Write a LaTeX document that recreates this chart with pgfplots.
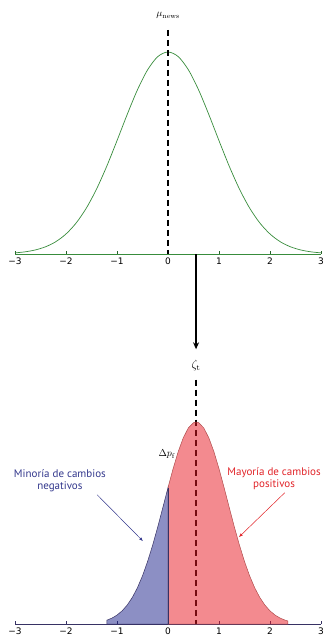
\documentclass[border=0pt]{standalone}
\usepackage{pgfplots}
\pgfplotsset{compat=1.18}
\usepackage{fontspec}
\usetikzlibrary{arrows.meta}
\newfontfamily\tickfont{DejaVu Sans}
\newfontfamily\annot{PT Sans}

\definecolor{curvegreen}{RGB}{56,140,60}
\definecolor{negfill}{RGB}{25,31,137}
\definecolor{negedge}{RGB}{55,50,100}
\definecolor{posfill}{RGB}{232,22,32}
\definecolor{posedge}{RGB}{175,75,75}
\definecolor{negtext}{RGB}{50,55,140}
\definecolor{postext}{RGB}{225,35,40}

\pgfplotsset{
  campana/.style={
    scale only axis, x=51pt, y=202pt,
    xmin=-3, xmax=3, ymin=0,
    axis x line*=bottom, axis y line=none,
    xtick={-3,-2,-1,0,1,2,3},
    xticklabels={−3,−2,−1,0,1,2,3},
    tick align=inside, major tick length=3pt,
    ticklabel style={font=\tickfont\fontsize{9}{10}\selectfont},
    clip=false,
  }
}

\begin{document}
\begin{tikzpicture}
\useasboundingbox (0,0) rectangle (324pt,637pt);

% distribucion de noticias
\begin{axis}[campana, at={(15pt,383pt)}, anchor=south west, ymax=1.2,
  x axis line style={curvegreen, line width=0.6pt},
  xtick style={curvegreen!70!black, line width=0.4pt}]
\addplot[curvegreen, line width=0.7pt, smooth] coordinates {
  (-3.0,0.0055) (-2.8,0.0108) (-2.6,0.0201) (-2.4,0.0358) (-2.2,0.0609)
  (-2.0,0.0991) (-1.8,0.1537) (-1.6,0.2277) (-1.4,0.3221) (-1.2,0.4351)
  (-1.0,0.5610) (-0.8,0.6907) (-0.6,0.8122) (-0.4,0.9117) (-0.2,0.9772)
  (0.0,1.0000)
  (0.2,0.9772) (0.4,0.9117) (0.6,0.8122) (0.8,0.6907) (1.0,0.5610)
  (1.2,0.4351) (1.4,0.3221) (1.6,0.2277) (1.8,0.1537) (2.0,0.0991)
  (2.2,0.0609) (2.4,0.0358) (2.6,0.0201) (2.8,0.0108) (3.0,0.0055)};
\addplot[black, line width=1.5pt, dash pattern=on 6pt off 4pt] coordinates {(0,1.11) (0,0)};
\node at (axis cs:0,1.18) {$\mu_{\mathrm{news}}$};
\end{axis}

% distribucion de cambios
\begin{axis}[campana, at={(15pt,13pt)}, anchor=south west, ymax=1.35,
  x axis line style={negedge, line width=0.6pt},
  xtick style={negedge, line width=0.4pt}]
\addplot[black, line width=1.5pt, dash pattern=on 6pt off 4pt] coordinates {(0.55,1.21) (0.55,0)};
\addplot[draw=negedge, line width=0.5pt, fill=negfill, fill opacity=0.5] coordinates {
  (-1.2,0.0187) (-1.1,0.0290) (-1.0,0.0440) (-0.9,0.0650) (-0.8,0.0936)
  (-0.7,0.1312) (-0.6,0.1792) (-0.5,0.2385) (-0.4,0.3094) (-0.3,0.3910)
  (-0.2,0.4814) (-0.1,0.5775) (0.0,0.6750)} \closedcycle;
\addplot[draw=posedge, line width=0.5pt, fill=posfill, fill opacity=0.5] coordinates {
  (0.0,0.6750) (0.1,0.7687) (0.2,0.8530) (0.3,0.9220) (0.4,0.9711)
  (0.5,0.9968) (0.55,1.0000) (0.6,0.9968) (0.7,0.9711) (0.8,0.9220)
  (0.9,0.8530) (1.0,0.7687) (1.1,0.6750) (1.2,0.5775) (1.3,0.4814)
  (1.4,0.3910) (1.5,0.3094) (1.6,0.2385) (1.7,0.1792) (1.8,0.1312)
  (1.9,0.0936) (2.0,0.0650) (2.1,0.0440) (2.2,0.0290) (2.3,0.0187)
  (2.35,0.0148)} \closedcycle;
\draw[negedge, line width=0.5pt] (axis cs:0,0) -- (axis cs:0,0.675);
\node at (axis cs:0.55,1.28) {\large$\zeta_{\mathrm{t}}$};
\node[anchor=east, inner sep=0pt] at (axis cs:0.14,0.84) {$\Delta p_{\mathrm{f}}$};
\node[align=center, text=negtext, font=\annot\fontsize{11}{12.5}\selectfont]
  at (axis cs:-2.12,0.71) {Minoría de cambios\\negativos};
\node[align=center, text=postext, font=\annot\fontsize{11}{12.5}\selectfont, inner sep=0pt]
  at (axis cs:2.08,0.72) {Mayoría de cambios\\positivos};
\draw[negtext, line width=0.5pt, -{Latex[length=4pt,width=3pt]}]
  (axis cs:-1.39,0.64) -- (axis cs:-0.49,0.41);
\draw[postext, line width=0.5pt, -{Latex[length=4pt,width=3pt]}]
  (axis cs:2.29,0.65) -- (axis cs:1.39,0.43);
\draw[black, line width=1.2pt, -{Stealth[length=7pt,width=6pt]}]
  (axis cs:0.55,1.83) -- (axis cs:0.55,1.36);
\end{axis}
\end{tikzpicture}
\end{document}
